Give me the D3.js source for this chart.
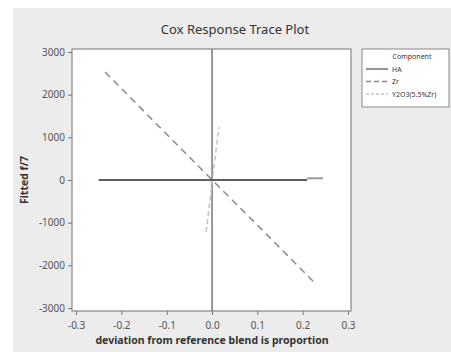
<!DOCTYPE html>
<html>
<head>
<meta charset="utf-8">
<script src="https://cdn.jsdelivr.net/npm/d3@7"></script>
<style>
  body { margin: 0; background: #fff; }
  text { font-family: "Noto Sans", "Open Sans", sans-serif; }
</style>
</head>
<body>
<div id="chart"></div>
<script>
// values
var xTicks = [-0.3, -0.2, -0.1, 0.0, 0.1, 0.2, 0.3];
var yTicks = [-3000, -2000, -1000, 0, 1000, 2000, 3000];

var haX = [-0.25, 0.21];
var haY = [0, 0];
var haTailX = [0.21, 0.245];
var haTailY = [40, 40];

var zrX = [-0.236, 0, 0.113, 0.227];
var zrY = [2530, 0, -1195, -2414];

var y2o3X = [-0.013, 0.015];
var y2o3Y = [-1220, 1240];

var legendNames = ["HA", "Zr", "Y2O3(5.5%Zr)"];

var w = 451, h = 352;
var pLeft = 72, pRight = 351, pTop = 49, pBottom = 311;

var svg = d3.select("#chart").append("svg")
    .attr("width", w)
    .attr("height", h);

svg.append("rect")
    .attr("x", 13).attr("y", 8)
    .attr("width", w - 13).attr("height", h - 8)
    .attr("fill", "#ececec");

var x = d3.scaleLinear().domain([-0.309, 0.3066]).range([pLeft, pRight]);
var y = d3.scaleLinear().domain([-3070, 3070]).range([pBottom, pTop]);

svg.append("rect")
    .attr("x", pLeft).attr("y", pTop)
    .attr("width", pRight - pLeft).attr("height", pBottom - pTop)
    .attr("fill", "white")
    .attr("stroke", "#888")
    .attr("stroke-width", 1.2);

// axes, plain hyphen for negatives like the original
var hyph = function(f) { return function(d) { return f(d).replace("\u2212", "-"); }; };
var xAxis = svg.append("g")
    .attr("transform", "translate(0," + pBottom + ")")
    .call(d3.axisBottom(x).tickValues(xTicks).tickSize(4).tickFormat(hyph(d3.format(".1f"))));
var yAxis = svg.append("g")
    .attr("transform", "translate(" + pLeft + ",0)")
    .call(d3.axisLeft(y).tickValues(yTicks).tickSize(4).tickFormat(hyph(d3.format("d"))));

[xAxis, yAxis].forEach(function(a) {
    a.select(".domain").remove();
    a.selectAll("line").attr("stroke", "#777");
    a.selectAll("text")
        .attr("fill", "#555")
        .style("font-size", "10px")
        .style("font-family", "\"Noto Sans\", sans-serif");
});
xAxis.selectAll("text").attr("dy", "1.1em");

// reference line at x = 0
svg.append("line")
    .attr("x1", x(0)).attr("x2", x(0))
    .attr("y1", pTop).attr("y2", pBottom)
    .attr("stroke", "#777")
    .attr("stroke-width", 1.5);

var line = d3.line()
    .x(function(d) { return x(d[0]); })
    .y(function(d) { return y(d[1]); });

function pts(xs, ys) {
    return xs.map(function(v, i) { return [v, ys[i]]; });
}

svg.append("path")
    .attr("d", line(pts(zrX, zrY)))
    .attr("fill", "none")
    .attr("stroke", "#8a8a8a")
    .attr("stroke-width", 1.5)
    .attr("stroke-dasharray", "7,5");

svg.append("path")
    .attr("d", line(pts(y2o3X, y2o3Y)))
    .attr("fill", "none")
    .attr("stroke", "#c4c4c4")
    .attr("stroke-width", 1.5)
    .attr("stroke-dasharray", "5,3");

svg.append("path")
    .attr("d", line(pts(haX, haY)))
    .attr("fill", "none")
    .attr("stroke", "#5e5e5e")
    .attr("stroke-width", 2);

svg.append("path")
    .attr("d", line(pts(haTailX, haTailY)))
    .attr("fill", "none")
    .attr("stroke", "#9a9a9a")
    .attr("stroke-width", 2);

// title and axis labels
svg.append("text")
    .attr("x", 235).attr("y", 34)
    .attr("text-anchor", "middle")
    .attr("fill", "#333")
    .style("font-size", "13px")
    .text("Cox Response Trace Plot");

svg.append("text")
    .attr("x", 212).attr("y", 344)
    .attr("text-anchor", "middle")
    .attr("fill", "#333")
    .style("font-size", "10.5px")
    .style("font-weight", "bold")
    .text("deviation from reference blend is proportion");

svg.append("text")
    .attr("transform", "translate(28,180) rotate(-90)")
    .attr("text-anchor", "middle")
    .attr("fill", "#333")
    .style("font-size", "10.5px")
    .style("font-weight", "bold")
    .text("Fitted f/7");

// legend
var lg = svg.append("g").attr("transform", "translate(362,49)");
lg.append("rect")
    .attr("width", 87).attr("height", 58)
    .attr("fill", "white")
    .attr("stroke", "#888");
lg.append("text")
    .attr("x", 50).attr("y", 10)
    .attr("text-anchor", "middle")
    .attr("fill", "#333")
    .style("font-size", "7px")
    .text("Component");

var styles = [
    { stroke: "#5e5e5e", dash: null },
    { stroke: "#8a8a8a", dash: "5,3" },
    { stroke: "#c4c4c4", dash: "3,2" }
];
var items = lg.selectAll("g.item")
    .data(legendNames)
    .enter().append("g")
    .attr("transform", function(d, i) { return "translate(4," + (20 + i * 12.5) + ")"; });
items.append("line")
    .attr("x1", 0).attr("x2", 22)
    .attr("stroke", function(d, i) { return styles[i].stroke; })
    .attr("stroke-width", 1.3)
    .attr("stroke-dasharray", function(d, i) { return styles[i].dash; });
items.append("text")
    .attr("x", 26).attr("y", 2.5)
    .attr("fill", "#333")
    .style("font-size", "7px")
    .text(function(d) { return d; });
</script>
</body>
</html>
